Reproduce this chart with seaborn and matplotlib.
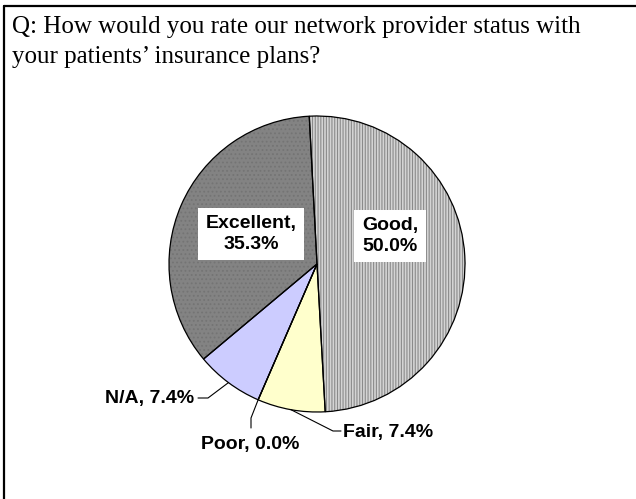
import numpy as np
import matplotlib
matplotlib.use("Agg")
import matplotlib.pyplot as plt
from matplotlib.lines import Line2D
import seaborn as sns

# ── Dados ─────────────────────────────────────────────────────────────────────
categorias = ["Good", "Fair", "Poor", "N/A", "Excellent"]
valores    = [50.0, 7.4, 0.0, 7.4, 35.3]
cores      = ["#d4d4d4", "#ffffcc", "#ccccff", "#ccccff", "#838383"]
hachuras   = ["||||||", "", "", "", "...."]
cor_hach   = ["#8a8a8a", "#ffffcc", "#ccccff", "#ccccff", "#747474"]
titulo     = ["Q: How would you rate our network provider status with",
              "your patients\u2019 insurance plans?"]

sns.set_style("white")
plt.rcParams["hatch.linewidth"] = 0.8

W, H = 636, 499
fig = plt.figure(figsize=(W / 100, H / 100), dpi=100, facecolor="white")

# moldura (só topo e esquerda aparecem no recorte)
fig.add_artist(Line2D([4 / W, 1], [1 - 6 / H, 1 - 6 / H], color="black", lw=1.6))
fig.add_artist(Line2D([4 / W, 4 / W], [0, 1 - 6 / H], color="black", lw=1.6))

for i, linha in enumerate(titulo):
    fig.text(12 / W, 1 - (33 + 30 * i) / H, linha, family="Liberation Serif",
             fontsize=18, va="baseline", ha="left", color="black")

# eixo da pizza: centro (317, 264), raio 148 px
cx, cy, r = 317, 264, 148
ax = fig.add_axes([(cx - r) / W, (H - cy - r) / H, 2 * r / W, 2 * r / H])
ax.set_xlim(-1, 1)
ax.set_ylim(-1, 1)
ax.set_aspect("equal")
ax.axis("off")

start = 93
wedges, _ = ax.pie(valores, startangle=start, counterclock=False, radius=1,
                   colors=cores, wedgeprops=dict(linewidth=0))
for w, h, hc in zip(wedges, hachuras, cor_hach):
    w.set_hatch(h)
    w.set_edgecolor(hc)
ax.pie(valores, startangle=start, counterclock=False, radius=1,
       wedgeprops=dict(fill=False, edgecolor="black", linewidth=0.9))
ax.set_xlim(-1, 1)
ax.set_ylim(-1, 1)


def px(x, y):
    return (x - cx) / r, (cy - y) / r


# ângulos das fatias
ang = [start]
for v in valores:
    ang.append(ang[-1] - 360 * v / sum(valores))
meio = [(a + b) / 2 for a, b in zip(ang[:-1], ang[1:])]


def borda(k):
    t = np.deg2rad(meio[k])
    return np.cos(t), np.sin(t)


rotulos = [f"{c},\n{v:.1f}%" if c in ("Good", "Excellent") else f"{c}, {v:.1f}%"
           for c, v in zip(categorias, valores)]
fonte = dict(family="Liberation Sans", fontweight="bold", fontsize=14, color="black")
caixa = dict(boxstyle="square,pad=0.38", facecolor="white", edgecolor="none")

# rótulos internos
ax.text(*px(390, 236), rotulos[0], ha="center", va="center", multialignment="center",
        linespacing=1.3, bbox=caixa, **fonte)
ax.text(*px(251, 234), rotulos[4], ha="center", va="center", multialignment="center",
        linespacing=1.3, bbox=caixa, **fonte)

# rótulos externos com linhas-guia
lw = 0.8
# N/A
ex, ey = borda(3)
pts = [px(198, 398), px(208, 398)]
ax.plot([pts[0][0], pts[1][0], ex], [pts[0][1], pts[1][1], ey], color="black", lw=lw, clip_on=False)
ax.text(*px(194, 398), rotulos[3], ha="right", va="center", **fonte)
# Poor
ex, ey = borda(2)
pts = [px(251, 428), px(251, 418)]
ax.plot([pts[0][0], pts[1][0], ex], [pts[0][1], pts[1][1], ey], color="black", lw=lw, clip_on=False)
ax.text(*px(250, 445), rotulos[2], ha="center", va="center", **fonte)
# Fair
ex, ey = borda(1)
pts = [px(341, 431), px(333, 431)]
ax.plot([pts[0][0], pts[1][0], ex], [pts[0][1], pts[1][1], ey], color="black", lw=lw, clip_on=False)
ax.text(*px(343, 432), rotulos[1], ha="left", va="center", **fonte)

plt.savefig("out.png", dpi=100, facecolor="white")
